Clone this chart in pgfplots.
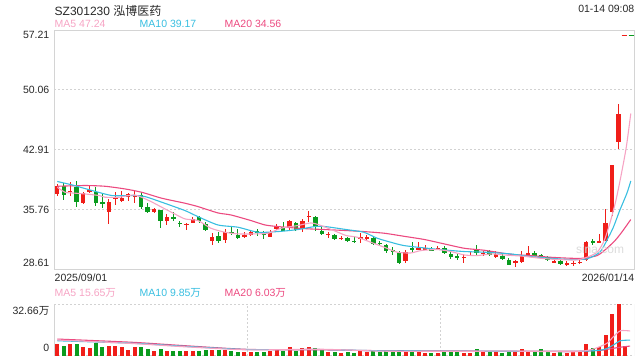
\documentclass[border=0pt]{standalone}
\usepackage{fontspec}
\setmainfont{Liberation Sans}
\newfontfamily\cjk{Noto Sans CJK SC}
\usepackage{pgfplots}
\usepackage{pgfplotstable}
\pgfplotsset{compat=1.18}
\definecolor{cred}{RGB}{240,30,25}
\definecolor{cgreen}{RGB}{10,155,30}
\definecolor{maA}{RGB}{246,164,196}
\definecolor{maB}{RGB}{56,190,224}
\definecolor{maC}{RGB}{236,74,128}
\definecolor{frm}{RGB}{212,212,212}
\definecolor{txt}{RGB}{40,40,40}

% up (red) candles: index, open, high, low, close, volume (wan)
\pgfplotstableread{
i o h l c v
0 37.65 38.82 37.35 38.54 7.3
2 37.90 39.10 37.40 37.98 7.3
4 36.55 37.90 36.43 37.70 5.2
5 37.82 38.54 37.70 38.10 5.0
8 35.43 37.00 34.03 36.63 6.3
9 37.10 37.90 36.30 37.20 6.3
10 36.83 38.00 36.63 37.15 5.6
11 37.23 37.75 36.83 37.63 3.8
12 37.35 38.00 36.55 37.50 5.2
15 35.43 35.91 35.35 35.83 2.9
17 34.35 35.23 33.85 34.83 3.0
20 33.95 34.15 33.36 34.03 2.6
21 34.15 34.83 34.10 34.63 2.8
24 32.05 32.92 31.57 32.44 3.6
26 32.12 33.43 31.76 33.12 3.8
29 32.52 33.04 32.36 32.72 2.3
30 32.72 33.36 32.56 33.04 2.5
33 32.52 33.36 32.44 33.04 2.6
34 33.43 34.03 33.31 33.76 4.0
36 33.72 34.56 33.24 34.35 5.3
38 33.43 34.63 33.12 34.35 5.0
39 34.83 35.55 34.23 35.03 5.3
42 32.72 33.04 32.36 32.84 2.2
44 32.24 32.64 32.12 32.36 1.8
47 32.24 32.92 31.76 32.52 2.6
48 32.24 32.72 32.12 32.52 2.2
54 29.65 30.97 29.37 30.65 3.0
56 30.92 31.93 30.92 31.20 2.4
57 31.00 31.56 30.92 31.12 1.8
59 31.05 31.36 30.88 31.16 1.8
63 29.97 30.45 29.37 30.13 1.8
64 30.25 30.65 30.17 30.33 1.6
66 30.45 30.85 30.25 30.61 2.0
68 30.05 30.77 29.97 30.45 2.0
71 29.33 29.77 28.85 29.57 2.2
72 29.45 30.85 29.37 30.25 4.2
73 30.37 31.45 30.33 30.53 2.6
77 29.45 29.77 29.37 29.57 1.8
79 29.13 29.65 29.05 29.37 1.8
80 29.25 29.65 29.05 29.37 2.0
81 29.41 29.73 29.25 29.53 2.6
82 29.77 32.04 29.65 31.84 7.3
84 31.76 32.84 31.76 31.96 5.3
85 32.04 35.83 31.96 34.15 13.1
86 35.47 41.10 34.95 41.05 26.5
87 43.85 48.36 43.05 47.24 32.66
}\upT

% down (green) candles
\pgfplotstableread{
i o h l c v
1 38.54 38.94 36.95 37.50 6.1
3 38.42 39.20 36.03 36.63 7.1
6 37.90 38.42 36.15 36.55 7.8
7 36.63 37.70 35.90 36.50 5.6
13 37.50 37.82 35.83 36.11 5.2
14 36.03 36.55 35.35 35.43 4.1
16 35.71 35.71 33.55 34.35 4.1
18 34.92 35.43 34.35 34.63 3.0
19 34.15 34.43 33.70 34.05 3.0
22 34.83 35.03 34.15 34.43 2.6
23 34.03 34.23 33.24 33.31 3.2
25 32.56 33.12 31.76 31.96 3.2
27 33.10 33.72 32.65 33.00 2.6
28 32.76 33.43 32.24 32.32 2.5
31 33.16 33.43 32.64 32.92 2.2
32 32.92 33.16 32.24 32.80 2.0
35 33.64 34.23 33.16 33.24 2.6
37 34.11 34.23 33.24 33.36 3.0
40 34.83 35.03 33.24 33.64 4.5
41 33.16 33.64 32.76 32.84 3.2
43 32.72 32.84 32.12 32.24 2.0
45 32.36 32.52 31.84 31.96 2.0
46 32.04 32.52 31.76 31.88 1.8
49 32.32 32.44 31.52 31.64 2.6
50 31.76 31.96 31.36 31.64 2.0
51 31.52 31.64 30.57 30.77 2.6
52 30.92 31.24 30.37 30.65 2.4
53 30.56 30.85 29.25 29.33 3.2
55 31.16 31.93 30.65 31.00 2.2
58 30.99 31.24 30.85 30.93 1.6
60 31.16 31.36 30.45 30.53 2.2
61 30.45 30.65 29.85 30.05 2.0
62 30.25 30.45 29.77 29.93 2.0
65 30.97 31.52 30.37 30.53 4.2
67 30.77 30.97 30.17 30.33 2.0
69 30.25 30.45 29.77 29.85 1.8
70 29.77 29.97 29.09 29.17 2.6
74 30.57 30.85 30.17 30.25 2.0
75 30.30 30.45 30.05 30.20 4.2
76 30.05 30.17 29.57 29.77 2.2
78 29.57 29.77 29.13 29.29 2.0
83 31.96 32.24 31.56 31.84 4.6
}\downT

% volume of the latest session (no candle drawn yet)
\pgfplotstableread{
i v
88 6.1
}\lastV

\begin{document}
\begin{tikzpicture}[x=1bp,y=1bp,font=\fontsize{10.5bp}{12bp}\selectfont]
\useasboundingbox (0,0) rectangle (640,360);

% ---------------- price panel ----------------
\begin{axis}[name=price, at={(54bp,90.75bp)}, anchor=south west,
  scale only axis, width=580bp, height=239bp,
  xmin=-0.51, xmax=89.4, ymin=28.61, ymax=57.21,
  axis line style={draw=frm, line width=0.8bp},
  xtick=\empty,
  ytick={35.76,42.91,50.06},
  yticklabels={35.76,42.91,50.06},
  yticklabel style={anchor=east, inner sep=0pt, xshift=-4.5bp, text=txt,
    font=\fontsize{10.5bp}{12bp}\selectfont},
  major tick length=0pt,
  ymajorgrids, grid style={draw=gray!35, line width=1bp, dash pattern=on 2bp off 2bp},
  clip=true]
% wicks
\addplot[forget plot, draw=none, mark=none, error bars/.cd, y dir=both, y explicit,
  error mark=none, error bar style={line width=1bp, draw=cred, solid}]
  table[x=i, y expr={(\thisrow{h}+\thisrow{l})/2}, y error expr={(\thisrow{h}-\thisrow{l})/2}] {\upT};
\addplot[forget plot, draw=none, mark=none, error bars/.cd, y dir=both, y explicit,
  error mark=none, error bar style={line width=1bp, draw=cgreen, solid}]
  table[x=i, y expr={(\thisrow{h}+\thisrow{l})/2}, y error expr={(\thisrow{h}-\thisrow{l})/2}] {\downT};
% bodies
\addplot[forget plot, draw=none, mark=none, error bars/.cd, y dir=both, y explicit,
  error mark=none, error bar style={line width=4.4bp, draw=cred, solid}]
  table[x=i, y expr={(\thisrow{o}+\thisrow{c})/2}, y error expr={max(abs(\thisrow{c}-\thisrow{o})/2,0.065)}] {\upT};
\addplot[forget plot, draw=none, mark=none, error bars/.cd, y dir=both, y explicit,
  error mark=none, error bar style={line width=4.4bp, draw=cgreen, solid}]
  table[x=i, y expr={(\thisrow{o}+\thisrow{c})/2}, y error expr={max(abs(\thisrow{c}-\thisrow{o})/2,0.065)}] {\downT};
% MA20
\addplot[maC, line width=1.1bp, smooth, tension=0.4, mark=none] coordinates {
(0,38.54) (4.3,38.63) (7.4,38.54) (10.5,38.22) (13.1,37.82) (16.2,37.11) (19.8,36.51)
(21.8,36.11) (24.9,35.35) (26.9,35.11) (30.0,34.44) (32.2,33.91) (34.2,33.72) (37.3,33.52)
(39.3,33.43) (41.5,33.36) (44.8,33.24) (47.5,33.12) (50.7,32.92) (53.7,32.56) (56.9,32.17)
(60.0,31.64) (63.1,31.12) (66.2,30.88) (70.2,30.41) (73.3,30.25) (76.4,30.05) (79.5,29.93)
(81.5,29.93) (83.7,30.25) (85.2,31.12) (86.5,32.08) (87.5,33.04) (88.9,34.56)};
% MA10
\addplot[maB, line width=1.1bp, smooth, tension=0.4, mark=none] coordinates {
(0,39.11) (2.3,38.70) (5.4,38.03) (8.5,37.43) (12.0,37.43) (13.6,37.31) (16.2,36.63)
(19.8,35.63) (21.8,34.91) (24.9,33.91) (28.0,33.64) (31.1,33.04) (34.2,33.12) (37.3,33.36)
(39.9,33.72) (41.5,33.72) (44.8,33.36) (47.5,33.04) (49.6,32.32) (51.7,31.84) (53.7,31.45)
(56.9,31.16) (60.0,30.92) (63.1,30.73) (66.2,30.65) (70.2,30.45) (73.3,30.13) (76.4,29.93)
(79.5,29.77) (82.1,29.85) (84.1,30.65) (85.2,32.08) (86.2,33.64) (87.2,35.67) (88.3,37.71)
(88.9,39.17)};
% MA5
\addplot[maA, line width=1.1bp, smooth, tension=0.4, mark=none] coordinates {
(0,38.42) (1.2,37.82) (2.3,37.74) (4.3,37.62) (6.5,37.43) (7.4,37.23) (9.6,37.23) (12.0,37.50)
(14.2,36.83) (16.2,36.03) (18.2,35.23) (19.8,34.63) (21.8,34.44) (23.8,33.52) (26.0,33.04)
(28.0,32.84) (30.6,32.84) (32.7,32.92) (34.7,33.52) (37.3,33.84) (39.3,34.15) (40.9,33.84)
(43.5,33.04) (44.8,32.64) (46.5,32.44) (48.6,31.84) (50.7,31.24) (52.7,30.65) (54.8,30.56)
(56.4,30.85) (58.9,30.97) (61.0,30.73) (63.1,30.32) (65.1,30.25) (67.4,30.45) (69.1,30.32)
(72.2,30.17) (74.8,29.93) (77.5,29.77) (80.6,29.73) (82.1,30.05) (83.7,30.65) (84.8,32.08)
(85.7,34.23) (86.6,36.87) (87.4,39.86) (88.2,43.21) (88.9,47.24)};
\end{axis}

% price labels at the frame edges
\node[anchor=east, inner sep=0pt, text=txt] at (49.5,325) {57.21};
\node[anchor=east, inner sep=0pt, text=txt] at (49.5,97.3) {28.61};

% header
\node[anchor=west, inner sep=0pt, text=txt, font=\fontsize{12bp}{14bp}\selectfont] at (54.5,349.5) {SZ301230 {\cjk 泓博医药}};
\node[anchor=east, inner sep=0pt, text=txt] at (634.5,351.5) {01-14 09:08};
\node[anchor=west, inner sep=0pt, text=maA] at (54.5,336) {MA5 47.24};
\node[anchor=west, inner sep=0pt, text=maB] at (139.5,336) {MA10 39.17};
\node[anchor=west, inner sep=0pt, text=maC] at (224.5,336) {MA20 34.56};
\draw[cred, line width=1bp] (621.5,325) -- (626.5,325);
\draw[cgreen, line width=1bp] (628.5,325) -- (633.5,325);
\node[text=gray!28, font=\fontsize{12bp}{14bp}\selectfont] at (600,111) {sina.com};

% dates
\node[anchor=west, inner sep=0pt, text=txt] at (54.5,82.5) {2025/09/01};
\node[anchor=east, inner sep=0pt, text=txt] at (634.5,82.5) {2026/01/14};

% volume legend
\node[anchor=west, inner sep=0pt, text=maA] at (54.5,67) {MA5 15.65{\cjk 万}};
\node[anchor=west, inner sep=0pt, text=maB] at (139.5,67) {MA10 9.85{\cjk 万}};
\node[anchor=west, inner sep=0pt, text=maC] at (224.5,67) {MA20 6.03{\cjk 万}};

% ---------------- volume panel ----------------
\begin{axis}[name=vol, at={(54bp,4.5bp)}, anchor=south west,
  scale only axis, width=580bp, height=51.2bp,
  xmin=-0.51, xmax=89.4, ymin=0, ymax=32.66,
  axis line style={draw=none},
  xtick={29.46,59.43}, xticklabels={},
  ytick={0,32.66}, yticklabels={},
  major tick length=0pt,
  xmajorgrids, ymajorgrids,
  grid style={draw=gray!35, line width=1bp, dash pattern=on 2bp off 2bp},
  clip=true]
\addplot[forget plot, ycomb, draw=cred, line width=4bp, mark=none] table[x=i,y=v] {\upT};
\addplot[forget plot, ycomb, draw=cgreen, line width=4bp, mark=none] table[x=i,y=v] {\downT};
\addplot[forget plot, ycomb, draw=cred, line width=4bp, mark=none] table[x=i,y=v] {\lastV};
\addplot[maC, line width=1.1bp, smooth, tension=0.4, mark=none] coordinates {
(0,10.5) (11.8,8.4) (20,6.2) (29.6,3.9) (40.7,3.6) (50,3.1) (59.3,2.9) (70,2.8) (80,2.7)
(84,3.2) (85.2,3.9) (86.2,4.6) (87.3,5.3) (88.8,6.03)};
\addplot[maB, line width=1.1bp, smooth, tension=0.4, mark=none] coordinates {
(0,9.4) (11.8,7.8) (20,5.8) (29.6,3.8) (40.7,3.8) (50,3.0) (59.3,2.8) (70,2.7) (80,2.6)
(84,3.3) (85.2,4.5) (86.2,6.7) (87.3,9.4) (88.8,9.85)};
\addplot[maA, line width=1.1bp, smooth, tension=0.4, mark=none] coordinates {
(0,9.9) (11.8,7.6) (20,5.5) (29.6,3.6) (40.7,4.0) (50,2.8) (59.3,2.6) (70,2.8) (80,2.4)
(83,4.0) (85.2,7.8) (86.2,12.0) (87.3,15.8) (88.8,15.65)};
\draw[frm, line width=0.8bp] (rel axis cs:0,0) -- (rel axis cs:0,1);
\draw[frm, line width=0.8bp] (rel axis cs:1,0) -- (rel axis cs:1,1);
\end{axis}
\node[anchor=east, inner sep=0pt, text=txt] at (49.5,49.3) {32.66{\cjk 万}};
\node[anchor=east, inner sep=0pt, text=txt] at (49.5,11.7) {0};
\end{tikzpicture}
\end{document}
